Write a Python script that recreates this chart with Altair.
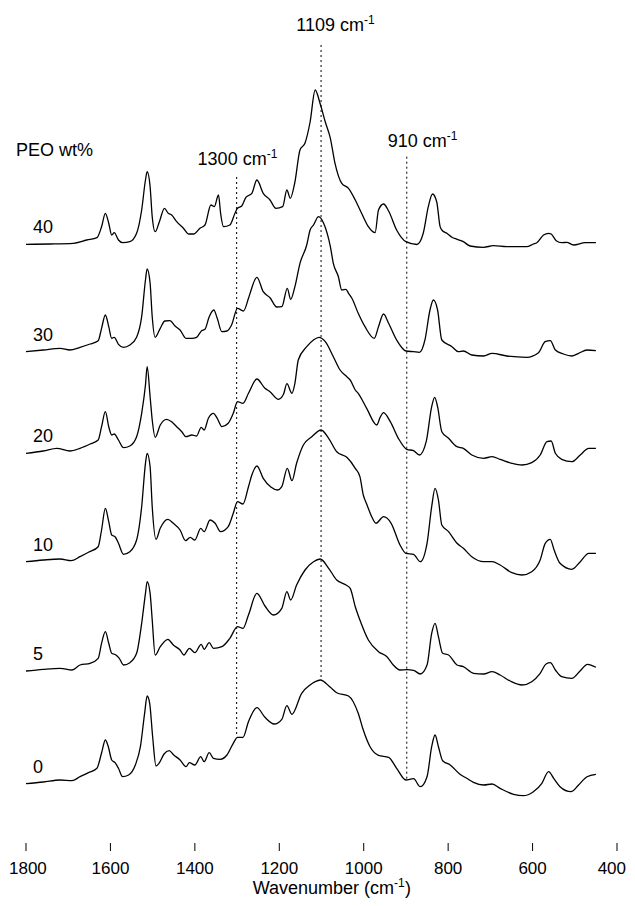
import altair as alt
import pandas as pd

# ---------------- data ----------------
series_names = ["40", "30", "20", "10", "5", "0"]

wn_40 = [1800, 1743, 1688, 1656, 1632, 1621, 1612, 1604, 1597, 1591, 1581, 1571, 1554, 1538, 1526, 1517, 1513, 1506,
         1501, 1494, 1484, 1472, 1463, 1455, 1443, 1427, 1415, 1403, 1388, 1376, 1362, 1354, 1344, 1339, 1332, 1317,
         1305, 1299, 1289, 1279, 1265, 1253, 1238, 1222, 1208, 1192, 1182, 1174, 1163, 1151, 1139, 1127, 1115, 1103,
         1091, 1079, 1068, 1052, 1036, 1020, 1005, 989, 973, 965, 953, 941, 922, 900, 874, 859, 847, 837, 827, 819,
         815, 803, 791, 779, 764, 748, 716, 693, 661, 614, 598, 590, 574, 562, 556, 544, 531, 519, 503, 475, 450]
int_40 = [606.7, 607, 607.7, 611, 613.3, 624.3, 637.7, 627.7, 616, 618.3, 611, 608.3, 609.3, 617.7, 641, 671, 679.3,
          664.3, 634.3, 619.3, 629.3, 642.7, 637.7, 636, 629.3, 622.7, 617, 617, 622.7, 626, 646, 644.3, 656, 637.7,
          624.3, 626, 637.7, 642.7, 645, 653.7, 657.7, 671, 657.7, 651, 642.7, 644.3, 661, 652.7, 669, 701, 708, 729,
          761, 747, 729, 712.7, 687.7, 667.7, 662.7, 651, 637.7, 624.3, 618.3, 641, 647, 640, 621, 609.3, 606.5,
          617.7, 644.3, 657, 649, 624.3, 621, 617.7, 613.7, 611.7, 609.3, 605, 603.7, 605.3, 604.3, 604.3, 607,
          608.3, 616, 617.7, 617, 610.3, 608.3, 608.7, 606, 608.3, 608.3]

wn_30 = [1800, 1759, 1719, 1696, 1672, 1648, 1629, 1621, 1612, 1604, 1597, 1591, 1581, 1569, 1554, 1538, 1526, 1517,
         1513, 1506, 1501, 1494, 1482, 1471, 1459, 1447, 1435, 1421, 1407, 1396, 1384, 1376, 1366, 1355, 1347, 1336,
         1324, 1313, 1299, 1285, 1273, 1268, 1253, 1238, 1222, 1206, 1194, 1181, 1173, 1163, 1151, 1135, 1127, 1119,
         1107, 1095, 1079, 1072, 1060, 1052, 1042, 1036, 1028, 1013, 997, 975, 965, 953, 941, 922, 900, 882, 868, 855,
         843, 835, 825, 815, 791, 776, 764, 744, 716, 696, 661, 614, 586, 570, 558, 546, 527, 507, 491, 471, 450]
int_30 = [499.3, 501, 502.7, 501, 503.7, 507, 510.3, 522.7, 536, 524.3, 512.7, 513.7, 506.7, 503.7, 506, 513.7, 534.3,
          571, 582, 567.7, 534.3, 513.7, 522.7, 530, 530.3, 525, 521, 512.7, 512.7, 513.7, 520.3, 521.7, 534.3, 541,
          532.7, 519.3, 520, 526, 542.7, 540, 552.7, 559.3, 573.7, 559.3, 553.3, 544, 544.3, 562.7, 551.7, 564.3,
          587.7, 606, 621, 626, 634.3, 627.7, 604.3, 587.7, 574.3, 561, 561.7, 557.7, 552.7, 537.7, 524.3, 512.7,
          524.3, 537, 527.7, 511, 500, 499.3, 498.7, 511, 541, 551, 541, 511, 504.3, 499.3, 500, 496, 495, 497.7,
          495, 493.7, 498.3, 509.3, 510.3, 501, 497, 495, 497.7, 501, 500.3]

wn_20 = [1800, 1759, 1727, 1696, 1672, 1648, 1629, 1621, 1612, 1604, 1597, 1591, 1581, 1569, 1554, 1538, 1526, 1517,
         1513, 1506, 1501, 1494, 1482, 1467, 1455, 1443, 1431, 1421, 1407, 1396, 1385, 1378, 1368, 1356, 1347, 1336,
         1321, 1309, 1299, 1286, 1273, 1253, 1234, 1222, 1202, 1190, 1182, 1170, 1163, 1155, 1135, 1119, 1106, 1091,
         1072, 1056, 1040, 1032, 1020, 1013, 993, 969, 961, 953, 937, 918, 898, 882, 868, 852, 839, 832, 825, 815, 799,
         779, 764, 744, 716, 696, 677, 649, 625, 602, 582, 566, 556, 546, 531, 507, 487, 467, 450]
int_20 = [397.7, 400, 402.7, 400, 402.7, 407, 411, 424.3, 439.3, 424.3, 416, 417, 411, 403.3, 405, 414.3, 437.7, 466,
          484.3, 454.3, 431, 413.7, 426, 431.7, 429.3, 424.3, 419.3, 414.3, 416, 415, 423.7, 421, 432.7, 437.7,
          432.7, 424.3, 427.7, 437.7, 449.3, 447.7, 457.7, 472, 462.7, 459.3, 451.7, 456.7, 467.3, 457.7, 467.7,
          491, 504.3, 511, 513.7, 509.3, 494.3, 481, 474.3, 471, 461, 457.7, 442.7, 426, 433.7, 438.3, 429.3, 412.7,
          401.7, 400.3, 396, 409.3, 444.3, 453.7, 444.3, 419.3, 412.7, 404.3, 402.7, 396, 392.7, 394.3, 391.7, 387.7,
          386, 388.3, 396, 409.3, 410, 397.7, 391.7, 389.3, 396, 402.7, 402.7]

wn_10 = [1800, 1759, 1719, 1693, 1672, 1652, 1629, 1621, 1612, 1604, 1597, 1589, 1581, 1569, 1554, 1538, 1526, 1517,
         1513, 1506, 1501, 1492, 1482, 1464, 1451, 1435, 1422, 1411, 1400, 1386, 1378, 1364, 1352, 1339, 1321, 1309,
         1299, 1286, 1273, 1265, 1253, 1238, 1220, 1204, 1194, 1181, 1170, 1159, 1143, 1123, 1101, 1083, 1064, 1040,
         1020, 1009, 1001, 993, 981, 971, 953, 935, 914, 900, 882, 866, 850, 839, 831, 823, 815, 799, 779, 764, 744,
         716, 696, 677, 649, 625, 602, 582, 570, 558, 549, 535, 507, 487, 467, 450]
int_10 = [289.3, 291, 292, 290.3, 294.3, 298.7, 304.3, 321, 342.7, 329.3, 316, 314.3, 307.7, 296.7, 299.3, 311, 344.3,
          387.7, 397.7, 384.3, 344.3, 311.7, 322.7, 331.7, 327.7, 321, 310.3, 313.7, 311, 322.7, 319.3, 331, 327.7,
          319.3, 324.3, 337.7, 349.3, 347, 364.3, 376, 385, 372.7, 364, 361, 364.3, 382.7, 370.3, 387.7, 406, 414.3,
          421, 412.7, 399.3, 393.7, 382.7, 374.3, 356, 347, 334.3, 327.7, 334.3, 327.7, 306, 297.7, 296.7, 289.3,
          307.7, 344.3, 362.7, 351, 326, 319.3, 307.7, 302.7, 294.3, 289.3, 289.3, 286, 278.3, 276, 279.3, 291,
          307.7, 311.7, 301, 287.7, 281.7, 289.3, 297.7, 297.7]

wn_5 = [1800, 1759, 1719, 1691, 1672, 1648, 1629, 1621, 1612, 1604, 1597, 1587, 1579, 1569, 1554, 1538, 1526, 1517,
        1513, 1506, 1501, 1494, 1482, 1464, 1451, 1435, 1426, 1413, 1400, 1385, 1378, 1366, 1356, 1336, 1317, 1299,
        1286, 1273, 1253, 1234, 1214, 1194, 1182, 1173, 1159, 1139, 1119, 1103, 1083, 1064, 1042, 1032, 1020, 1009,
        989, 965, 945, 930, 914, 898, 882, 866, 850, 839, 831, 823, 813, 799, 779, 764, 740, 716, 696, 677, 653, 625,
        602, 582, 568, 558, 546, 531, 507, 487, 470, 450]
int_5 = [180, 181.7, 182.7, 181, 186, 187.7, 192.7, 207.7, 219.3, 207.7, 197.7, 196, 192.7, 186, 188.3, 197.7, 227.7,
         257.7, 269.3, 257.7, 231, 196, 204.3, 211.7, 206, 201, 196, 202.7, 198.3, 206.7, 201.7, 208.3, 202.7, 204.3,
         212.7, 224.3, 222.7, 236, 257.7, 245, 236, 242.7, 259.3, 251, 266, 281, 289.3, 292, 282.7, 271, 266, 262.7,
         244.3, 231, 211, 199.3, 194.3, 186, 181, 181.3, 180.7, 177, 186, 217.7, 227.7, 214.3, 197.7, 196, 186,
         184.3, 177.7, 177, 179.3, 176, 170, 166, 169.3, 177.7, 187, 188.3, 181, 174.3, 172.7, 180.3, 186.7, 183.7]

wn_0 = [1800, 1759, 1719, 1691, 1672, 1652, 1632, 1621, 1612, 1605, 1597, 1589, 1581, 1571, 1557, 1541, 1529, 1519,
        1513, 1507, 1500, 1492, 1485, 1473, 1461, 1450, 1435, 1421, 1413, 1400, 1386, 1378, 1366, 1356, 1340, 1324,
        1309, 1299, 1286, 1273, 1253, 1234, 1212, 1194, 1182, 1170, 1147, 1127, 1115, 1103, 1079, 1064, 1036, 1013,
        1001, 985, 965, 941, 922, 900, 882, 866, 850, 839, 831, 823, 813, 795, 772, 756, 740, 716, 696, 677, 645, 622,
        598, 578, 562, 550, 535, 509, 491, 471, 450]
int_0 = [67.3, 69, 71, 70.3, 74.3, 78.3, 82.7, 98, 111, 104.3, 91, 88.3, 82.7, 74.3, 76, 86, 104.3, 137.7, 155, 147.7,
         114.3, 85, 87.7, 97, 100.3, 96, 91, 84.3, 88.3, 86, 94.3, 89.3, 98.3, 92.7, 91.7, 96, 107.7, 113.7, 113.7,
         129.3, 143.3, 133.7, 127, 131.7, 145.3, 136.7, 157.7, 166, 169.3, 171, 163.7, 158.3, 155, 137.7, 121, 104.3,
         95.7, 93.7, 82.7, 71, 72.3, 64.3, 74.3, 104.3, 116, 104.3, 90.3, 86, 76.7, 72.7, 68.7, 66, 67, 62.7, 56.7,
         55.3, 59.3, 67.7, 79.3, 72.7, 64.3, 59.3, 66, 74.3, 76.7]

tick_values = [1800, 1600, 1400, 1200, 1000, 800, 600, 400]

marker_wn = [1301, 1101, 898]
marker_top = [674, 806, 694.3]
marker_bottom = [116, 174, 71.7]
marker_text = ["1300 cm", "1109 cm", "910 cm"]

# ---------------- tables ----------------
wn_lists = [wn_40, wn_30, wn_20, wn_10, wn_5, wn_0]
int_lists = [int_40, int_30, int_20, int_10, int_5, int_0]
rows = []
for name, wns, vals in zip(series_names, wn_lists, int_lists):
    for w, v in zip(wns, vals):
        rows.append({"series": name, "wn": w, "val": v})
spectra = pd.DataFrame(rows)

first_pts = pd.DataFrame({"series": series_names,
                          "wn": [w[0] for w in wn_lists],
                          "val": [v[0] for v in int_lists]})
ticks_df = pd.DataFrame({"wn": tick_values, "lab": [str(t) for t in tick_values]})
markers = pd.DataFrame({"wn": marker_wn, "top": marker_top, "bottom": marker_bottom, "text": marker_text})

W, H = 591, 843
FONT = "Liberation Sans"
TICK_FS = 17

x_scale = alt.Scale(domain=[1800, 400], nice=False, zero=False)
y_scale = alt.Scale(domain=[0, H], nice=False, zero=False)

x_axis = alt.Axis(values=tick_values, ticks=False, tickSize=0, grid=False, labels=False,
                  domainColor="black", domainWidth=1, title=None)

X = alt.X("wn:Q", scale=x_scale, axis=x_axis)
Xn = alt.X("wn:Q", scale=x_scale, axis=None)

lines = alt.Chart(spectra).mark_line(color="black", strokeWidth=1.3, interpolate="monotone").encode(
    x=X, y=alt.Y("val:Q", scale=y_scale, axis=None), detail="series:N")

tick_marks = alt.Chart(ticks_df).mark_rule(color="black", strokeWidth=1).encode(
    x=Xn, y=alt.value(H), y2=alt.value(H - 8))

tick_label_y = H + 23
first_label = alt.Chart(ticks_df.iloc[:1]).mark_text(
    align="left", baseline="alphabetic", fontSize=TICK_FS, font=FONT, color="black", dx=-17).encode(
    x=Xn, y=alt.value(tick_label_y), text="lab:N")
mid_labels = alt.Chart(ticks_df.iloc[1:-1]).mark_text(
    align="center", baseline="alphabetic", fontSize=TICK_FS, font=FONT, color="black").encode(
    x=Xn, y=alt.value(tick_label_y), text="lab:N")
last_label = alt.Chart(ticks_df.iloc[-1:]).mark_text(
    align="right", baseline="alphabetic", fontSize=TICK_FS, font=FONT, color="black", dx=9).encode(
    x=Xn, y=alt.value(tick_label_y), text="lab:N")

dotted = alt.Chart(markers).mark_rule(color="black", strokeWidth=1, strokeDash=[2, 3]).encode(
    x=Xn, y=alt.Y("top:Q", scale=y_scale, axis=None), y2="bottom:Q")

layers = [lines, tick_marks, first_label, mid_labels, last_label, dotted]

label_dx = [30, 43, 40]
label_dy = [-12, -14, -10]
for i in range(3):
    one = markers.iloc[[i]]
    layers.append(alt.Chart(one).mark_text(align="right", baseline="alphabetic", fontSize=18, font=FONT,
                                           color="black", dx=label_dx[i], dy=label_dy[i]).encode(
        x=Xn, y=alt.Y("top:Q", scale=y_scale, axis=None), text="text:N"))
    layers.append(alt.Chart(one).mark_text(align="left", baseline="alphabetic", fontSize=12, font=FONT,
                                           color="black", dx=label_dx[i], dy=label_dy[i] - 7).encode(
        x=Xn, y=alt.Y("top:Q", scale=y_scale, axis=None), text=alt.value("-1")))

series_labels = alt.Chart(first_pts).mark_text(align="left", baseline="alphabetic", fontSize=18, font=FONT,
                                                color="black", dx=7, dy=-11).encode(
    x=Xn, y=alt.Y("val:Q", scale=y_scale, axis=None), text="series:N")
layers.append(series_labels)

peo = alt.Chart(pd.DataFrame({"t": ["PEO wt%"]})).mark_text(
    align="left", baseline="alphabetic", fontSize=18, font=FONT, color="black").encode(
    x=alt.value(-10), y=alt.value(148), text="t:N")
layers.append(peo)

title_y = H + 43
title_df = pd.DataFrame({"t": ["Wavenumber (cm"]})
t_main = alt.Chart(title_df).mark_text(align="right", baseline="alphabetic", fontSize=18, font=FONT,
                                       color="black").encode(x=alt.value(368), y=alt.value(title_y), text="t:N")
t_sup = alt.Chart(title_df).mark_text(align="left", baseline="alphabetic", fontSize=12, font=FONT,
                                      color="black").encode(x=alt.value(368), y=alt.value(title_y - 7),
                                                            text=alt.value("-1"))
t_close = alt.Chart(title_df).mark_text(align="left", baseline="alphabetic", fontSize=18, font=FONT,
                                        color="black").encode(x=alt.value(379), y=alt.value(title_y),
                                                              text=alt.value(")"))
layers += [t_main, t_sup, t_close]

chart = alt.layer(*layers).properties(
    width=W, height=H,
    padding={"left": 18, "top": 0, "right": 10, "bottom": 47},
    autosize=alt.AutoSizeParams(type="none"),
).configure(background="white").configure_view(stroke=None)

chart.save("out.html", embed_options={"renderer": "svg", "actions": False})
